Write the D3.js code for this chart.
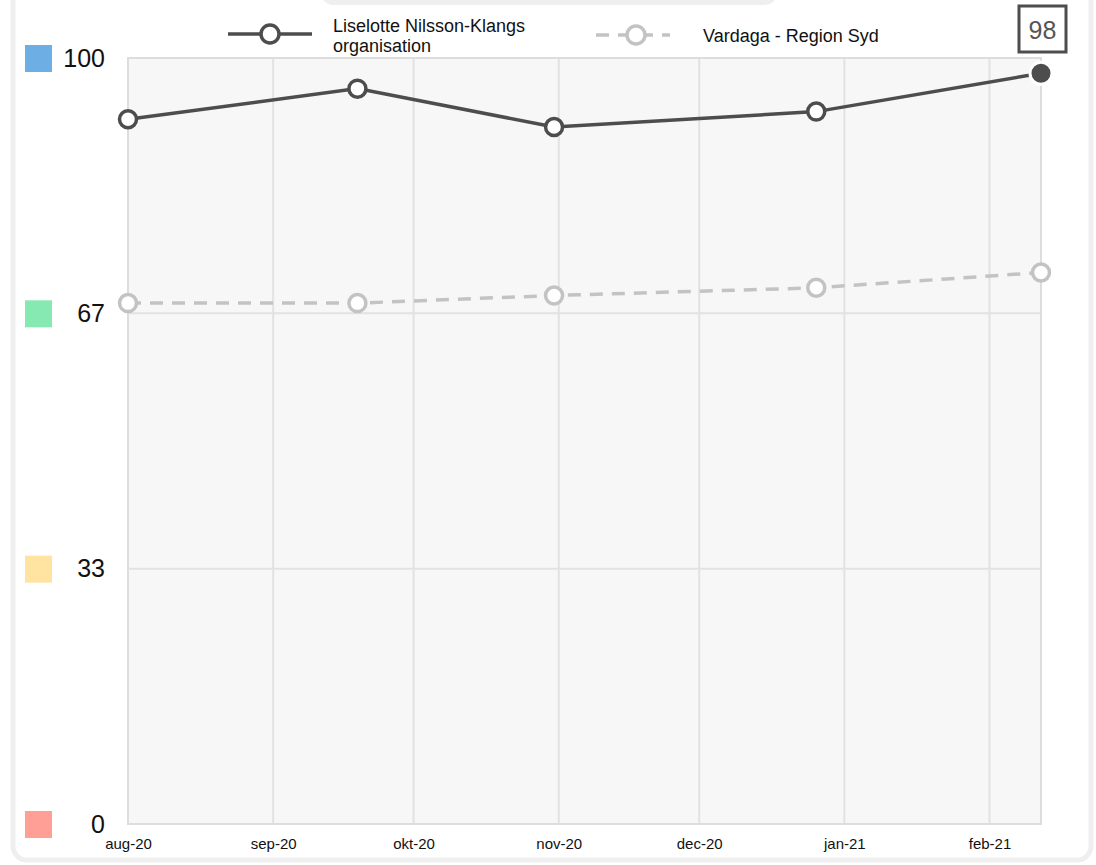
<!DOCTYPE html>
<html>
<head>
<meta charset="utf-8">
<script src="https://cdn.jsdelivr.net/npm/d3@7"></script>
<style>
  body { margin: 0; background: #fff; font-family: "Liberation Sans", Arial, sans-serif; }
</style>
</head>
<body>
<svg id="chart" width="1096" height="865"></svg>
<script>
// series data
const dates = ["2020-08-01", "2020-09-19", "2020-10-31", "2020-12-26", "2021-02-12"];
const orgValues = [92, 96, 91, 93, 98];
const regionValues = [68, 68, 69, 70, 72];
const seriesNames = ["Liselotte Nilsson-Klangs organisation", "Vardaga - Region Syd"];
// y levels + their colour keys
const levelValues = [0, 100 / 3, 200 / 3, 100];
const levelLabels = ["0", "33", "67", "100"];
const levelColors = ["#ff9f96", "#ffe3a1", "#86e9b1", "#6daee5"];
const monthNames = ["jan", "feb", "mar", "apr", "maj", "jun", "jul", "aug", "sep", "okt", "nov", "dec"];

let plotLeft = 128, plotRight = 1041, plotTop = 58, plotBottom = 824;

const svg = d3.select("#chart");
const parse = d3.timeParse("%Y-%m-%d");
const dd = dates.map(parse);

// card frame
svg.append("rect")
    .attr("x", 320).attr("y", -30).attr("width", 458).attr("height", 35)
    .attr("rx", 14).attr("fill", "#efefef");
svg.append("rect")
    .attr("x", 13).attr("y", -30).attr("width", 1078).attr("height", 890)
    .attr("rx", 14).attr("fill", "none").attr("stroke", "#efefef").attr("stroke-width", 5);

let xScale = d3.scaleTime()
    .domain([dd[0], dd[dd.length - 1]])
    .range([plotLeft, plotRight]);
let yScale = d3.scaleLinear()
    .domain([0, 100])
    .range([plotBottom, plotTop]);

// plot background
svg.append("rect")
    .attr("x", plotLeft).attr("y", plotTop)
    .attr("width", plotRight - plotLeft).attr("height", plotBottom - plotTop)
    .attr("fill", "#f7f7f7");

let months = d3.timeMonth.range(d3.timeMonth.ceil(dd[0]), dd[dd.length - 1]);
if (+months[0] !== +dd[0]) months.unshift(dd[0]);

// vertical grid
svg.append("g").selectAll("line").data(months).join("line")
    .attr("x1", d => xScale(d)).attr("x2", d => xScale(d))
    .attr("y1", plotTop).attr("y2", plotBottom)
    .attr("stroke", "#e2e2e2").attr("stroke-width", 2);

// horizontal grid
svg.append("g").selectAll("line").data(levelValues).join("line")
    .attr("x1", plotLeft).attr("x2", plotRight)
    .attr("y1", d => yScale(d)).attr("y2", d => yScale(d))
    .attr("stroke", "#e2e2e2").attr("stroke-width", 2);

// frame of plot
svg.append("rect")
    .attr("x", plotLeft).attr("y", plotTop)
    .attr("width", plotRight - plotLeft).attr("height", plotBottom - plotTop)
    .attr("fill", "none").attr("stroke", "#dddddd").attr("stroke-width", 2);

// x axis labels
let xAxis = d3.axisBottom(xScale)
    .tickValues(months)
    .tickSize(0)
    .tickPadding(14)
    .tickFormat(d => monthNames[d.getMonth()] + "-" + d3.timeFormat("%y")(d));
let xg = svg.append("g").attr("transform", "translate(0," + plotBottom + ")").call(xAxis);
xg.select(".domain").remove();
xg.selectAll("text").attr("font-size", 15).attr("fill", "#111")
    .attr("font-family", "Liberation Sans, Arial, sans-serif");

// y level keys
let lv = svg.append("g").selectAll("g").data(levelValues).join("g")
    .attr("transform", d => "translate(0," + yScale(d) + ")");
lv.append("rect")
    .attr("x", 25).attr("y", -13).attr("width", 27).attr("height", 27)
    .attr("fill", (d, i) => levelColors[i]);
lv.append("text")
    .attr("x", 105)
    .attr("dy", "0.35em")
    .attr("text-anchor", "end")
    .attr("font-size", 25).attr("fill", "#111")
    .text((d, i) => levelLabels[i]);

// lines
let line = d3.line().x((d, i) => xScale(dd[i])).y(d => yScale(d));

svg.append("path").datum(regionValues)
    .attr("d", line).attr("fill", "none")
    .attr("stroke", "#c3c3c3").attr("stroke-width", 3.5)
    .attr("stroke-dasharray", "13,9");
svg.append("g").selectAll("circle").data(regionValues).join("circle")
    .attr("cx", (d, i) => xScale(dd[i])).attr("cy", d => yScale(d))
    .attr("r", 8.5).attr("fill", "#fff")
    .attr("stroke", "#c3c3c3").attr("stroke-width", 3.5);

svg.append("path").datum(orgValues)
    .attr("d", line).attr("fill", "none")
    .attr("stroke", "#4d4d4d").attr("stroke-width", 3.5);
let lastIdx = orgValues.length - 1;
svg.append("g").selectAll("circle").data(orgValues).join("circle")
    .attr("cx", (d, i) => xScale(dd[i])).attr("cy", d => yScale(d))
    .attr("r", (d, i) => i === lastIdx ? 11 : 8.5)
    .attr("fill", (d, i) => i === lastIdx ? "#4d4d4d" : "#fff")
    .attr("stroke", (d, i) => i === lastIdx ? "#fff" : "#4d4d4d")
    .attr("stroke-width", (d, i) => i === lastIdx ? 3 : 3.5);

// latest value box
svg.append("rect")
    .attr("x", 1019).attr("y", 6).attr("width", 47).attr("height", 46)
    .attr("fill", "#fff").attr("stroke", "#4d4d4d").attr("stroke-width", 3);
svg.append("text")
    .attr("x", 1042.5).attr("y", 30).attr("dy", "0.35em")
    .attr("text-anchor", "middle").attr("font-size", 25).attr("fill", "#555")
    .text(orgValues[lastIdx]);

// legend
let lg1 = svg.append("g");
lg1.append("line").attr("x1", 228).attr("x2", 312).attr("y1", 34).attr("y2", 34)
    .attr("stroke", "#4d4d4d").attr("stroke-width", 3.5);
lg1.append("circle").attr("cx", 270).attr("cy", 34).attr("r", 9)
    .attr("fill", "#fff").attr("stroke", "#4d4d4d").attr("stroke-width", 3.5);
let t1 = lg1.append("text").attr("x", 333).attr("y", 32).attr("font-size", 18).attr("fill", "#111");
let words = seriesNames[0].split(" ");
t1.append("tspan").attr("x", 333).text(words.slice(0, 2).join(" "));
t1.append("tspan").attr("x", 333).attr("dy", 20).text(words.slice(2).join(" "));

let lg2 = svg.append("g");
lg2.append("line").attr("x1", 596).attr("x2", 670).attr("y1", 35).attr("y2", 35)
    .attr("stroke", "#c3c3c3").attr("stroke-width", 3.5).attr("stroke-dasharray", "13,9");
lg2.append("circle").attr("cx", 636).attr("cy", 35).attr("r", 9)
    .attr("fill", "#fff").attr("stroke", "#c3c3c3").attr("stroke-width", 3.5);
lg2.append("text").attr("x", 703).attr("y", 42).attr("font-size", 18).attr("fill", "#111")
    .text(seriesNames[1]);
</script>
</body>
</html>
